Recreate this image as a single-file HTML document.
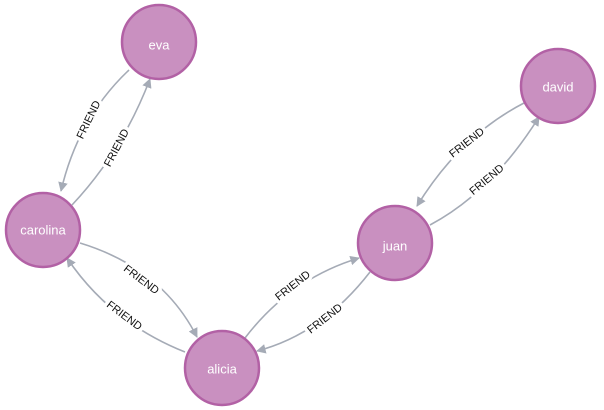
<!DOCTYPE html>
<html><head><style>
html,body{margin:0;padding:0;background:#fff;width:604px;height:410px;overflow:hidden}
svg{display:block}
.e{fill:none;stroke:#A5ABB6;stroke-width:1.6}
.l{font-family:"Liberation Sans",sans-serif;font-size:11px;fill:#111;text-anchor:middle;dominant-baseline:central;paint-order:stroke;stroke:#fff;stroke-width:7px;stroke-linejoin:round}
.n{fill:#C990C0;stroke:#B261A5;stroke-width:2.5}
.t{font-family:"Liberation Sans",sans-serif;font-size:13px;fill:#fff;text-anchor:middle;dominant-baseline:central}
</style></head><body>
<svg width="604" height="410" viewBox="0 0 604 410">
<defs><marker id="a" viewBox="0 0 10 10" refX="9" refY="5" markerWidth="6" markerHeight="6" orient="auto" markerUnits="strokeWidth"><path d="M0,0 L10,5 L0,10 z" fill="#A5ABB6"/></marker></defs>
<path class="e" d="M129,70 Q78,118 61,191" marker-end="url(#a)"/>
<path class="e" d="M72,205 Q122,152 150,79" marker-end="url(#a)"/>
<path class="e" d="M80,243 Q162,268 197,337" marker-end="url(#a)"/>
<path class="e" d="M185,352 Q110,322 67,258" marker-end="url(#a)"/>
<path class="e" d="M245,338 Q290,279 359,258" marker-end="url(#a)"/>
<path class="e" d="M370,272 Q322,334 257,351" marker-end="url(#a)"/>
<path class="e" d="M430,225 Q492,192 539,117" marker-end="url(#a)"/>
<path class="e" d="M524,103 Q460,136 417,206" marker-end="url(#a)"/>
<text class="l" transform="translate(89,120) rotate(-64)">FRIEND</text>
<text class="l" transform="translate(117,148) rotate(-62)">FRIEND</text>
<text class="l" transform="translate(141,280) rotate(37)">FRIEND</text>
<text class="l" transform="translate(124,316) rotate(37)">FRIEND</text>
<text class="l" transform="translate(293,286) rotate(-38)">FRIEND</text>
<text class="l" transform="translate(325,319) rotate(-38)">FRIEND</text>
<text class="l" transform="translate(487,180) rotate(-40)">FRIEND</text>
<text class="l" transform="translate(467,143) rotate(-38)">FRIEND</text>
<circle class="n" cx="159" cy="42" r="37"/><text class="t" x="159" y="45">eva</text>
<circle class="n" cx="43" cy="230" r="37"/><text class="t" x="43" y="230">carolina</text>
<circle class="n" cx="222" cy="368" r="37"/><text class="t" x="222" y="369">alicia</text>
<circle class="n" cx="395" cy="243" r="37"/><text class="t" x="395" y="246">juan</text>
<circle class="n" cx="558" cy="86" r="37"/><text class="t" x="558" y="87">david</text>
</svg>
</body></html>
